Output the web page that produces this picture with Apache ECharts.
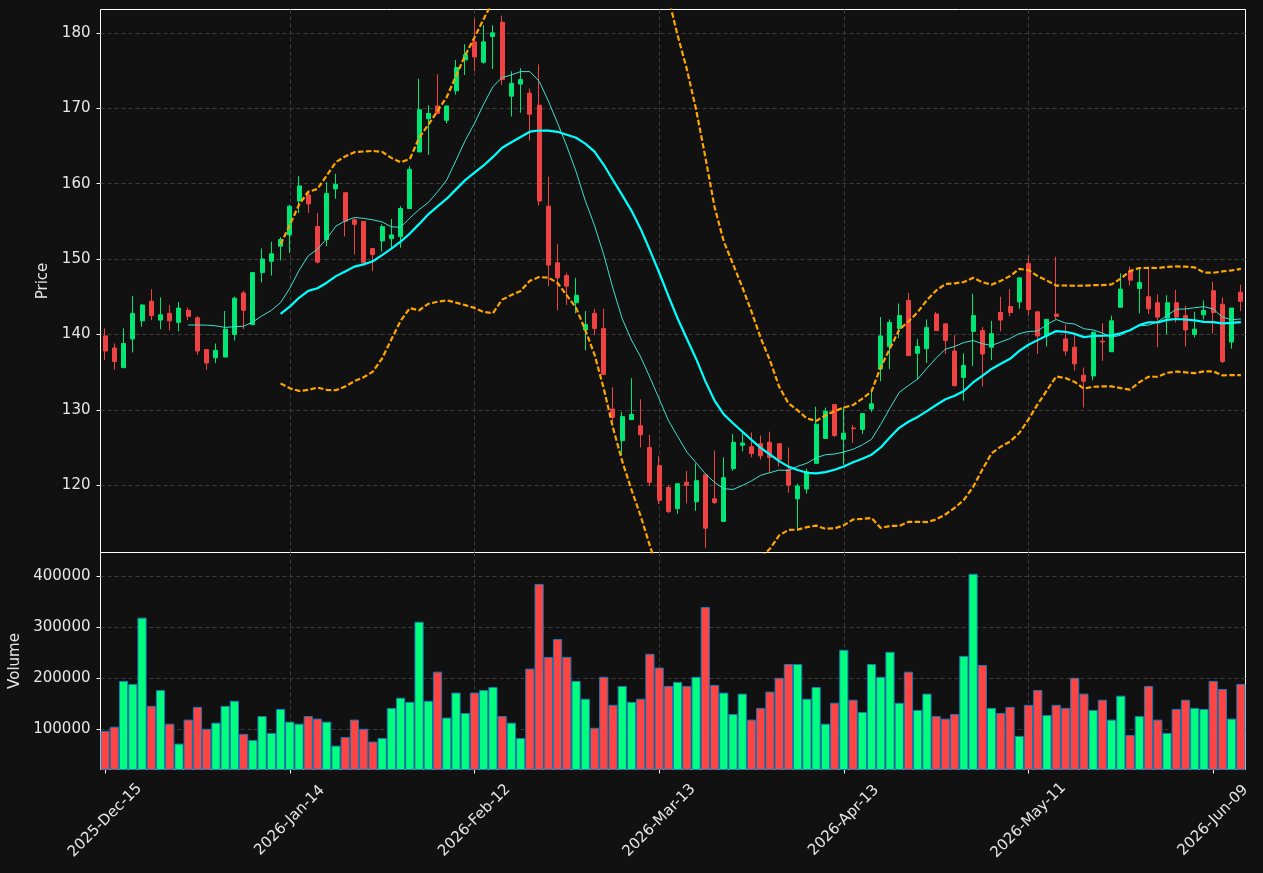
<!DOCTYPE html>
<html lang="en">
<head>
    <meta charset="UTF-8">
    <title>Price and Volume</title>
    <script src="https://cdn.jsdelivr.net/npm/echarts@6/dist/echarts.min.js"></script>
    <style>
        body { margin: 0; padding: 0; background: #111111; }
        #chart { width: 1263px; height: 873px; }
    </style>
</head>
<body>
<div id="chart"></div>
<script>
    // Trading calendar (NYSE days, holidays skipped)
    const startDate = '2025-12-15';
    const holidays = ['2025-12-25', '2026-01-01', '2026-01-19', '2026-02-16', '2026-04-03', '2026-05-25'];
    const monthNames = ['Jan', 'Feb', 'Mar', 'Apr', 'May', 'Jun', 'Jul', 'Aug', 'Sep', 'Oct', 'Nov', 'Dec'];

    // OHLC
    const opens = [
        139.8, 138.2, 135.6, 139.4, 141.8, 144.4, 141.9, 142.8, 141.6, 143.2,
        142.2, 138.0, 136.9, 137.0, 140.0, 145.5, 141.3, 148.2, 149.7, 151.7,
        153.2, 157.7, 158.5, 154.3, 152.6, 159.3, 158.8, 155.2, 155.0, 151.4,
        152.4, 152.7, 153.0, 156.7, 164.2, 168.6, 170.3, 168.4, 172.3, 176.4,
        178.8, 176.1, 179.5, 181.4, 171.6, 173.2, 172.0, 170.4, 157.0, 149.5,
        147.8, 144.2, 140.6, 142.8, 140.8, 130.1, 125.9, 128.7, 127.9, 125.0,
        122.6, 119.7, 116.9, 120.4, 117.8, 121.4, 118.2, 115.2, 122.2, 125.3,
        125.1, 125.5, 125.7, 125.5, 122.1, 118.2, 119.5, 122.9, 126.2, 130.7,
        126.1, 127.6, 127.4, 130.1, 135.4, 138.4, 140.8, 144.5, 137.5, 138.1,
        142.7, 141.4, 137.8, 134.3, 140.4, 140.5, 138.3, 142.9, 143.7, 144.3,
        149.4, 143.0, 139.8, 142.7, 139.4, 138.3, 134.6, 134.5, 139.1, 137.7,
        143.6, 148.4, 146.1, 145.0, 144.2, 142.2, 144.2, 142.5, 140.0, 142.6,
        145.8, 144.0, 139.0, 145.6
    ];
    const closes = [
        137.8, 136.4, 138.8, 142.8, 143.9, 142.5, 142.6, 141.8, 143.5, 142.4,
        137.8, 136.2, 137.9, 140.7, 144.8, 143.2, 148.2, 150.0, 150.7, 152.6,
        157.0, 159.7, 157.3, 149.6, 158.7, 159.9, 155.0, 154.6, 149.5, 150.6,
        154.3, 153.2, 156.7, 161.9, 169.8, 169.3, 169.3, 170.3, 175.4, 177.1,
        176.8, 178.8, 180.0, 173.8, 173.3, 173.8, 169.2, 157.7, 149.2, 147.5,
        146.4, 145.2, 141.3, 140.8, 134.7, 129.0, 129.1, 129.4, 126.7, 120.4,
        118.0, 116.5, 120.2, 120.0, 120.6, 114.3, 117.7, 121.0, 125.7, 125.6,
        124.2, 123.9, 123.7, 123.4, 120.0, 119.9, 121.8, 128.1, 129.8, 126.6,
        126.9, 127.5, 129.5, 130.8, 139.8, 141.6, 142.5, 137.2, 138.4, 140.9,
        140.5, 139.2, 133.2, 135.9, 142.5, 137.4, 140.1, 141.9, 142.9, 147.5,
        143.3, 139.8, 142.0, 142.4, 137.8, 136.1, 133.8, 140.3, 139.0, 141.8,
        146.0, 147.2, 146.9, 143.4, 142.3, 144.2, 142.3, 140.6, 140.7, 143.2,
        142.9, 136.4, 143.5, 144.4
    ];
    const lows = [
        136.6, 135.3, 135.5, 137.6, 141.0, 141.9, 140.7, 140.5, 140.4, 141.9,
        137.3, 135.3, 136.2, 137.0, 139.2, 140.7, 141.3, 146.9, 147.8, 149.8,
        150.8, 156.1, 156.1, 149.4, 151.7, 158.0, 153.0, 150.6, 149.1, 148.4,
        151.0, 151.5, 151.5, 156.7, 164.2, 163.8, 169.3, 168.0, 171.8, 174.4,
        174.9, 175.9, 175.2, 173.1, 168.9, 169.4, 165.7, 157.1, 146.4, 143.2,
        143.9, 142.8, 137.9, 139.9, 134.6, 128.5, 124.0, 128.7, 125.0, 119.9,
        117.5, 116.3, 116.2, 117.6, 116.6, 111.7, 117.5, 115.2, 121.9, 124.5,
        123.7, 123.4, 121.7, 122.5, 119.0, 114.0, 118.9, 122.9, 126.2, 126.4,
        122.7, 125.6, 126.8, 129.7, 133.8, 135.4, 139.5, 137.1, 134.0, 136.2,
        140.5, 137.4, 133.1, 131.2, 135.8, 133.1, 136.6, 140.4, 142.4, 143.4,
        142.5, 137.4, 138.4, 142.0, 137.2, 135.2, 130.3, 133.9, 136.5, 137.7,
        143.6, 146.5, 142.8, 142.7, 138.3, 140.0, 141.6, 138.4, 139.6, 142.0,
        140.1, 136.2, 138.1, 143.1
    ];
    const highs = [
        140.8, 138.8, 140.8, 145.1, 144.0, 146.0, 144.9, 143.9, 144.3, 143.6,
        142.4, 138.0, 138.8, 143.1, 145.0, 145.8, 148.2, 151.4, 152.3, 152.9,
        157.2, 161.0, 159.0, 156.1, 160.2, 161.3, 158.8, 155.4, 155.0, 151.4,
        154.6, 155.3, 157.0, 162.3, 173.9, 170.4, 174.5, 170.3, 176.4, 178.5,
        181.9, 181.0, 181.0, 182.3, 174.9, 175.3, 172.6, 175.8, 160.9, 152.0,
        148.2, 147.5, 143.1, 143.4, 143.4, 133.0, 129.7, 134.2, 131.4, 126.7,
        123.9, 120.0, 120.2, 121.9, 122.9, 121.4, 124.6, 123.7, 126.8, 127.1,
        127.0, 126.6, 127.1, 125.5, 125.0, 120.2, 122.2, 130.4, 130.3, 130.7,
        130.4, 128.0, 129.5, 132.4, 142.3, 142.0, 144.1, 145.5, 139.4, 142.0,
        143.0, 141.4, 139.9, 137.5, 145.4, 141.0, 141.8, 145.0, 146.0, 147.5,
        150.5, 143.0, 142.0, 150.3, 141.3, 139.9, 135.6, 140.3, 141.5, 142.5,
        148.1, 149.0, 148.7, 148.7, 145.3, 145.2, 145.9, 143.8, 143.0, 144.5,
        147.0, 144.9, 143.5, 146.6
    ];
    const volumes = [
        96000, 104000, 194000, 188000, 318000, 145000, 176000, 110000, 71000, 118000,
        143000, 100000, 112000, 145000, 155000, 90000, 78000, 125000, 92000, 139000,
        114000, 110000, 125000, 120000, 114000, 67000, 84000, 118000, 100000, 75000,
        82000, 141000, 161000, 153000, 310000, 155000, 212000, 122000, 171000, 131000,
        171000, 176000, 182000, 125000, 112000, 82000, 218000, 384000, 241000, 276000,
        241000, 194000, 159000, 102000, 202000, 147000, 184000, 153000, 159000, 247000,
        220000, 184000, 192000, 184000, 202000, 339000, 186000, 171000, 129000, 169000,
        118000, 141000, 173000, 200000, 227000, 227000, 159000, 182000, 110000, 151000,
        255000, 157000, 133000, 227000, 202000, 251000, 151000, 212000, 137000, 169000,
        125000, 120000, 129000, 243000, 404000, 225000, 141000, 131000, 143000, 86000,
        147000, 176000, 127000, 147000, 141000, 200000, 169000, 137000, 157000, 118000,
        165000, 88000, 125000, 184000, 118000, 92000, 139000, 157000, 141000, 139000,
        194000, 178000, 120000, 188000
    ];

    const upColor = '#00e676';
    const downColor = '#ef4343';
    const volUp = '#00ff7f';
    const volDown = '#ff4444';

    function tradingDays(start, count) {
        const out = [];
        const d = new Date(start + 'T00:00:00Z');
        while (out.length < count) {
            const iso = d.toISOString().slice(0, 10);
            const wd = d.getUTCDay();
            if (wd !== 0 && wd !== 6 && !holidays.includes(iso)) {
                out.push(d.getUTCFullYear() + '-' + monthNames[d.getUTCMonth()] + '-' +
                    String(d.getUTCDate()).padStart(2, '0'));
            }
            d.setUTCDate(d.getUTCDate() + 1);
        }
        return out;
    }

    // rolling mean / std of the closes (the overlays are indicators of the price)
    function rolling(values, n, fn) {
        return values.map((v, i) => {
            if (i < n - 1) return '-';
            return fn(values.slice(i - n + 1, i + 1));
        });
    }
    const mean = a => a.reduce((s, x) => s + x, 0) / a.length;
    const std = a => {
        const m = mean(a);
        return Math.sqrt(a.reduce((s, x) => s + (x - m) * (x - m), 0) / a.length);
    };

    const dates = tradingDays(startDate, closes.length);
    const ma10 = rolling(closes, 10, mean);
    const ma20 = rolling(closes, 20, mean);
    const sd20 = rolling(closes, 20, std);
    const upper = ma20.map((m, i) => m === '-' ? '-' : m + 2 * sd20[i]);
    const lower = ma20.map((m, i) => m === '-' ? '-' : m - 2 * sd20[i]);

    const candles = closes.map((c, i) => [opens[i], c, lows[i], highs[i]]);
    const volBars = volumes.map((v, i) => ({
        value: v,
        itemStyle: { color: closes[i] >= opens[i] ? volUp : volDown }
    }));

    const textColor = '#e6e6e6';
    const gridLine = { show: true, showMinLine: false, showMaxLine: false, lineStyle: { color: '#3d3d3d', type: [4, 3], width: 1 } };

    const chart = echarts.init(document.getElementById('chart'));
    chart.setOption({
        backgroundColor: '#111111',
        animation: false,
        textStyle: { fontFamily: 'DejaVu Sans' },
        // half-pixel offsets keep the white frames crisp
        grid: [
            { left: 100.5, width: 1145, top: 9.5, height: 543, show: true, borderColor: '#ffffff', borderWidth: 1, backgroundColor: '#111111', outerBoundsMode: 'none' },
            { left: 100.5, width: 1145, top: 552.5, height: 217, show: true, borderColor: '#ffffff', borderWidth: 1, backgroundColor: '#111111', outerBoundsMode: 'none' }
        ],
        xAxis: [
            {
                type: 'category', gridIndex: 0, data: dates, boundaryGap: true,
                axisLine: { show: false }, axisTick: { show: false }, axisLabel: { show: false },
                splitLine: Object.assign({ interval: 19, alignWithLabel: true }, gridLine)
            },
            {
                type: 'category', gridIndex: 1, data: dates, boundaryGap: true,
                axisLine: { show: false },
                axisTick: { show: true, interval: 19, alignWithLabel: true, length: 4, lineStyle: { color: '#ffffff' } },
                axisLabel: {
                    interval: 19, rotate: 45, align: 'center', verticalAlign: 'middle',
                    margin: 51, fontSize: 15, color: textColor
                },
                splitLine: Object.assign({ interval: 19, alignWithLabel: true }, gridLine)
            }
        ],
        yAxis: [
            {
                type: 'value', gridIndex: 0, min: 111.08, max: 183.09, splitNumber: 7,
                name: 'Price', nameLocation: 'middle', nameGap: 46,
                nameTextStyle: { color: textColor, fontSize: 15 },
                axisLine: { show: false },
                axisTick: { show: true, length: 4, lineStyle: { color: '#ffffff' } },
                axisLabel: { color: textColor, fontSize: 15, margin: 10, showMinLabel: false, showMaxLabel: false },
                splitLine: gridLine
            },
            {
                type: 'value', gridIndex: 1, min: 20200, max: 445700, splitNumber: 4,
                name: 'Volume', nameLocation: 'middle', nameGap: 77,
                nameTextStyle: { color: textColor, fontSize: 15 },
                axisLine: { show: false },
                axisTick: { show: true, length: 4, lineStyle: { color: '#ffffff' } },
                axisLabel: { color: textColor, fontSize: 15, margin: 10, showMinLabel: false, showMaxLabel: false, formatter: v => String(v) },
                splitLine: gridLine
            }
        ],
        series: [
            {
                name: 'OHLC', type: 'candlestick', xAxisIndex: 0, yAxisIndex: 0,
                data: candles, barWidth: 4.5,
                itemStyle: { color: upColor, color0: downColor, borderColor: upColor, borderColor0: downColor, borderWidth: 1 }
            },
            {
                name: 'MA10', type: 'line', xAxisIndex: 0, yAxisIndex: 0, data: ma10,
                symbol: 'none', lineStyle: { color: '#40e0d0', width: 1 }
            },
            {
                name: 'MA20', type: 'line', xAxisIndex: 0, yAxisIndex: 0, data: ma20,
                symbol: 'none', lineStyle: { color: '#00ffff', width: 2.2 }
            },
            {
                name: 'Upper', type: 'line', xAxisIndex: 0, yAxisIndex: 0, data: upper,
                symbol: 'none', lineStyle: { color: '#ffa500', width: 2.2, type: [5.5, 2.4] }
            },
            {
                name: 'Lower', type: 'line', xAxisIndex: 0, yAxisIndex: 0, data: lower,
                symbol: 'none', lineStyle: { color: '#ffa500', width: 2.2, type: [5.5, 2.4] }
            },
            {
                name: 'Volume', type: 'bar', xAxisIndex: 1, yAxisIndex: 1, data: volBars,
                barCategoryGap: '0%',
                itemStyle: { borderColor: '#1f77b4', borderWidth: 1 }
            }
        ]
    });
</script>
</body>
</html>
